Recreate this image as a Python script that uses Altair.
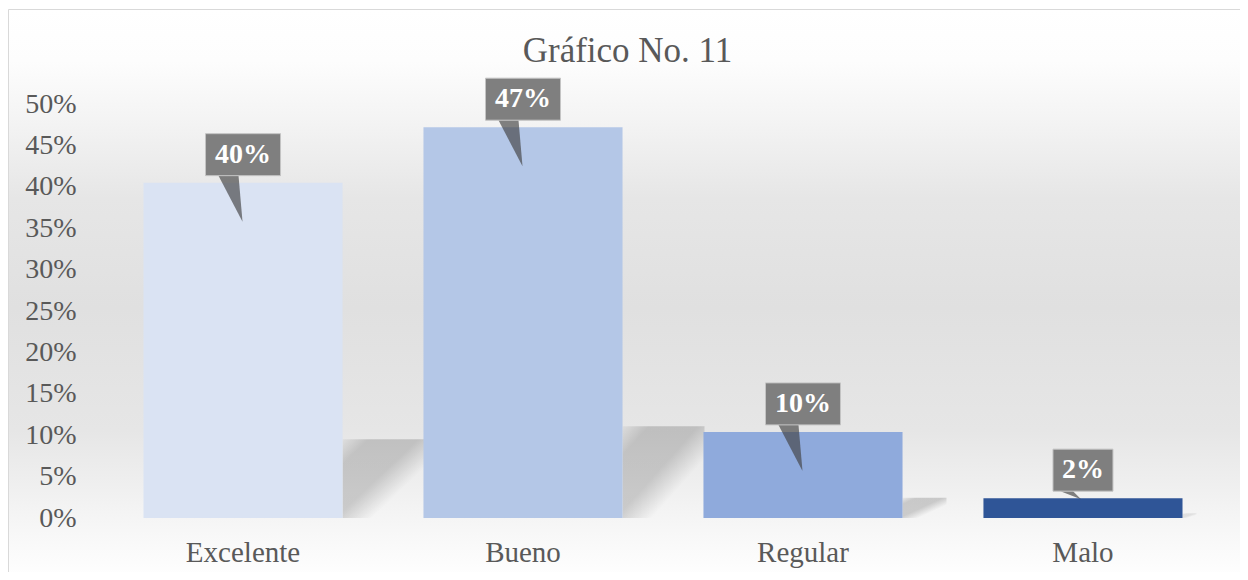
import altair as alt
import pandas as pd

# ---- data ----
categories = ["Excelente", "Bueno", "Regular", "Malo"]
values = [0.405, 0.472, 0.104, 0.024]
labels = ["40%", "47%", "10%", "2%"]
bar_colors = ["#dae3f3", "#b4c7e7", "#8faadc", "#2f5597"]
y_ticks = [0, 0.05, 0.10, 0.15, 0.20, 0.25, 0.30, 0.35, 0.40, 0.45, 0.50]
title_text = "Gráfico No. 11"

df = pd.DataFrame({"cat": categories, "value": values, "label": labels})

FONT = "Liberation Serif"
TXT = "#595959"
W, H = 1120, 414
PAD = {"left": 95, "top": 96, "right": 17, "bottom": 54}

x_scale = alt.Scale(domain=categories, paddingInner=0.289, paddingOuter=0.1446)
y_scale = alt.Scale(domain=[0, 0.5], nice=False, zero=True)

x_axis = alt.Axis(labelFont=FONT, labelFontSize=29, labelColor=TXT,
                  labelPadding=20, ticks=False, domain=False, zindex=1,
                  grid=False, labelAngle=0, title=None)
y_axis = alt.Axis(values=y_ticks, format=".0%", labelFont=FONT,
                  labelFontSize=28, labelColor=TXT, labelPadding=27, zindex=1,
                  ticks=False, domain=False, grid=False, title=None)


def X():
    return alt.X("cat:N", scale=x_scale, sort=categories, axis=x_axis, title=None)


def Y(field):
    return alt.Y(field, type="quantitative", scale=y_scale, axis=y_axis, title=None)


# background with vertical gradient and thin frame
bg_grad = alt.LinearGradient(
    gradient="linear", x1=0, y1=0, x2=0, y2=1,
    stops=[
        alt.GradientStop(offset=0.0, color="#ffffff"),
        alt.GradientStop(offset=0.09, color="#fdfdfd"),
        alt.GradientStop(offset=0.19, color="#f4f4f4"),
        alt.GradientStop(offset=0.33, color="#e6e6e6"),
        alt.GradientStop(offset=0.52, color="#e0e0e0"),
        alt.GradientStop(offset=0.735, color="#e6e6e6"),
        alt.GradientStop(offset=0.82, color="#eeeeee"),
        alt.GradientStop(offset=0.93, color="#f9f9f9"),
        alt.GradientStop(offset=1.0, color="#ffffff"),
    ],
)
background = alt.Chart(pd.DataFrame({"a": [0]})).mark_rect(
    fill=bg_grad, stroke="#d9d9d9", strokeWidth=1
).encode(
    x=alt.value(-94.5), x2=alt.value(W + 40),
    y=alt.value(-94.5), y2=alt.value(H + 64),
)

title = alt.Chart(pd.DataFrame({"t": [title_text]})).mark_text(
    font=FONT, fontSize=35, color=TXT, baseline="alphabetic", align="center"
).encode(
    text="t:N", x=alt.value(524.5), y=alt.value(-42)
)

# soft perspective shadows to the right of the bars
shadow_grad = alt.LinearGradient(
    gradient="linear", x1=0, y1=0, x2=1, y2=1,
    stops=[
        alt.GradientStop(offset=0.0, color="rgba(0,0,0,0.04)"),
        alt.GradientStop(offset=0.16, color="rgba(0,0,0,0.17)"),
        alt.GradientStop(offset=0.46, color="rgba(0,0,0,0.17)"),
        alt.GradientStop(offset=0.68, color="rgba(0,0,0,0.0)"),
        alt.GradientStop(offset=1.0, color="rgba(0,0,0,0.0)"),
    ],
)
base = alt.Chart(df)

shadow_calc = base.transform_calculate(sh="datum.value * 0.235")
shadows_tall = shadow_calc.transform_filter("datum.value >= 0.2").mark_bar(
    width=82, xOffset=140.5, fill=shadow_grad
).encode(x=X(), y=Y("sh"))
shadows_mid = shadow_calc.transform_filter(
    "datum.value < 0.2 && datum.value >= 0.05"
).mark_bar(width=44, xOffset=121.5, fill=shadow_grad).encode(x=X(), y=Y("sh"))
shadows_small = shadow_calc.transform_filter("datum.value < 0.05").mark_bar(
    width=14, xOffset=106.5, fill=shadow_grad, opacity=0.5
).encode(x=X(), y=Y("sh"))

bars = base.mark_bar().encode(
    x=X(),
    y=Y("value"),
    color=alt.Color("cat:N", scale=alt.Scale(domain=categories, range=bar_colors),
                    legend=None),
)

# callout shapes (unit box -1..1 scaled by sqrt(size)/2 = 50px)
box_wide = "M-0.75,-0.98H0.75V-0.14H-0.75Z"
box_narrow = "M-0.6,-0.98H0.6V-0.14H-0.6Z"
ptr_long = "M-0.49,-0.14L-0.01,0.78L-0.09,-0.14Z"
ptr_short = "M-0.45,-0.14L-0.04,0.02L-0.2,-0.14Z"

pointers = base.transform_calculate(
    pk="datum.value >= 0.05 ? 'long' : 'short'"
).mark_point(filled=True, size=10000, fill="#404040", fillOpacity=0.65,
             strokeWidth=0).encode(
    x=X(),
    y=Y("value"),
    shape=alt.Shape("pk:N", scale=alt.Scale(domain=["long", "short"],
                                            range=[ptr_long, ptr_short]),
                    legend=None),
)

boxes = base.transform_calculate(
    bk="length(datum.label) >= 3 ? 'wide' : 'narrow'"
).mark_point(filled=True, size=10000, fill="#7f7f7f", fillOpacity=1,
             stroke="#c4c4c4", strokeWidth=1, strokeOpacity=1).encode(
    x=X(),
    y=Y("value"),
    shape=alt.Shape("bk:N", scale=alt.Scale(domain=["wide", "narrow"],
                                            range=[box_wide, box_narrow]),
                    legend=None),
)

texts = base.mark_text(font=FONT, fontSize=28, fontWeight="bold", color="#ffffff",
                       baseline="middle", align="center", dy=-28).encode(
    x=X(),
    y=Y("value"),
    text="label:N",
)

chart = alt.layer(
    background, title, shadows_tall, shadows_mid, shadows_small,
    bars, pointers, boxes, texts
).resolve_scale(
    shape="independent"
).properties(
    width=W, height=H, padding=PAD,
    autosize=alt.AutoSizeParams(type="none"),
).configure_view(stroke=None)

chart.save("out.html", embed_options={"renderer": "svg", "actions": False})
